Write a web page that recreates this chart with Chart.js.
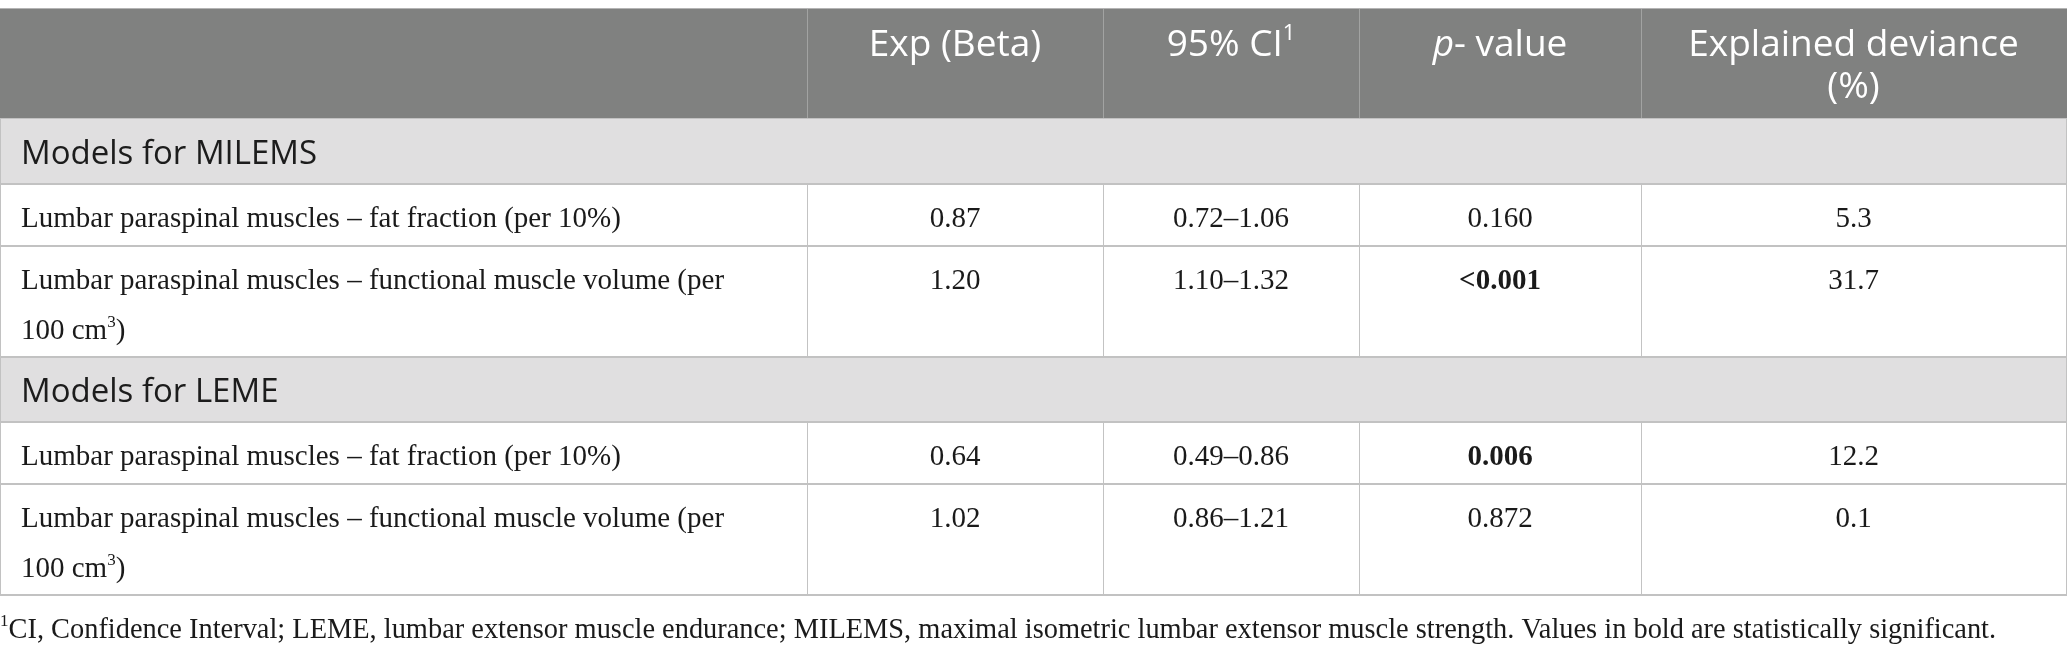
<!DOCTYPE html>
<html>
<head>
<meta charset="utf-8">
<title>Models for MILEMS and LEME</title>
<script src="https://cdn.jsdelivr.net/npm/chart.js@4.4.0/dist/chart.umd.min.js"></script>
<style>
html, body { margin: 0; padding: 0; background: #ffffff; }
#wrap { width: 2067px; height: 651px; position: relative; }
</style>
</head>
<body>
<div id="wrap"><canvas id="tableChart"></canvas></div>
<script>
// table content
var columnHeaders = ["", "Exp (Beta)", "95% CI¹", "_p_- value", "Explained deviance (%)"];
var groups = ["Models for MILEMS", "Models for LEME"];
var predictors = [
    "Lumbar paraspinal muscles – fat fraction (per 10%)",
    "Lumbar paraspinal muscles – functional muscle volume (per 100 cm³)"
];
// one entry per row: MILEMS fat, MILEMS volume, LEME fat, LEME volume
var expBeta = [0.87, 1.20, 0.64, 1.02];
var ciLower = [0.72, 1.10, 0.49, 0.86];
var ciUpper = [1.06, 1.32, 0.86, 1.21];
var pValues = ["0.160", "<0.001", "0.006", "0.872"];
var explainedDeviance = [5.3, 31.7, 12.2, 0.1];
var footnote = "¹CI, Confidence Interval; LEME, lumbar extensor muscle endurance; MILEMS, maximal isometric lumbar extensor muscle strength. Values in bold are statistically significant.";

// layout (in scale units, 1 unit = 1 px of the 2067 x 651 page)
var colEdges = [0, 807, 1103, 1359, 1641, 2066];
var tableTop = 9;
var headerHeight = 110;
var groupHeight = 65;
var rowHeight = 62;
var lineStep = 50;

var serif = "'Liberation Serif', 'Times New Roman', serif";
var sans = "'Open Sans', 'Noto Sans', sans-serif";
var headSize = 37, groupSize = 33, bodySize = 29, noteSize = 28.4;

function isSignificant(p) {
    return parseFloat(p.replace("<", "")) < 0.05;
}

// split text into runs: superscript digits and _italic_ parts
function runsOf(text) {
    var sup = { "¹": "1", "²": "2", "³": "3" };
    var runs = [];
    var italic = false;
    for (var ch of text) {
        if (ch === "_") { italic = !italic; continue; }
        var s = sup.hasOwnProperty(ch);
        var c = s ? sup[ch] : ch;
        var last = runs[runs.length - 1];
        if (last && last.sup === s && last.italic === italic) last.t += c;
        else runs.push({ t: c, sup: s, italic: italic });
    }
    return runs;
}

function fontFor(run, size, family, weight) {
    var sz = run.sup ? Math.round(size * 0.6) : size;
    return (run.italic ? "italic " : "") + (weight || "normal") + " " + sz + "px " + family;
}

function richWidth(ctx, text, size, family, weight) {
    var w = 0;
    runsOf(text).forEach(function (r) {
        ctx.font = fontFor(r, size, family, weight);
        w += ctx.measureText(r.t).width;
    });
    return w;
}

function drawRich(ctx, text, x, y, size, family, weight, align) {
    var w = richWidth(ctx, text, size, family, weight);
    var cx = align === "center" ? x - w / 2 : x;
    ctx.textAlign = "left";
    ctx.textBaseline = "alphabetic";
    runsOf(text).forEach(function (r) {
        ctx.font = fontFor(r, size, family, weight);
        ctx.fillText(r.t, cx, r.sup ? y - size * 0.42 : y);
        cx += ctx.measureText(r.t).width;
    });
}

function wrapLines(ctx, text, maxW, size, family, weight) {
    var words = text.split(" ");
    var lines = [];
    var cur = "";
    words.forEach(function (wd) {
        var test = cur ? cur + " " + wd : wd;
        if (cur && richWidth(ctx, test, size, family, weight) > maxW) {
            lines.push(cur);
            cur = wd;
        } else {
            cur = test;
        }
    });
    if (cur) lines.push(cur);
    return lines;
}

// build rows from the arrays
function buildRows(ctx) {
    var rows = [];
    var i = 0;
    groups.forEach(function (g) {
        rows.push({ kind: "group", label: g });
        predictors.forEach(function (p) {
            var lines = wrapLines(ctx, p, 735, bodySize, serif);
            rows.push({
                kind: "data",
                lines: lines,
                cells: [
                    expBeta[i].toFixed(2),
                    ciLower[i].toFixed(2) + "–" + ciUpper[i].toFixed(2),
                    pValues[i],
                    explainedDeviance[i].toFixed(1)
                ],
                bold: isSignificant(pValues[i])
            });
            i++;
        });
    });
    return rows;
}

var tablePlugin = {
    id: "tableCells",
    afterDraw: function (chart) {
        var ctx = chart.ctx;
        var X = function (v) { return chart.scales.x.getPixelForValue(v); };
        var Y = function (v) { return chart.scales.y.getPixelForValue(v); };
        var right = colEdges[colEdges.length - 1];
        ctx.save();

        // header
        ctx.fillStyle = "#808180";
        ctx.fillRect(X(0), Y(tableTop), X(right + 1) - X(0), Y(tableTop + headerHeight) - Y(tableTop));
        ctx.fillStyle = "#b4b4b4";
        ctx.fillRect(X(0), Y(tableTop - 1), X(right + 1) - X(0), 1);
        ctx.fillStyle = "#a2a3a2";
        for (var c = 1; c < colEdges.length - 1; c++) {
            ctx.fillRect(X(colEdges[c]), Y(tableTop), 1, Y(tableTop + headerHeight) - Y(tableTop));
        }
        ctx.fillStyle = "#ffffff";
        for (var c = 1; c < columnHeaders.length; c++) {
            var mid = (colEdges[c] + colEdges[c + 1]) / 2;
            var hl = wrapLines(ctx, columnHeaders[c], colEdges[c + 1] - colEdges[c] - 50, headSize, sans);
            hl.forEach(function (line, k) {
                drawRich(ctx, line, X(mid), Y(tableTop + 47 + k * 42), headSize, sans, "normal", "center");
            });
        }

        // body rows
        var rows = buildRows(ctx);
        var top = tableTop + headerHeight;
        var hLines = [top];
        rows.forEach(function (row) {
            var h;
            if (row.kind === "group") {
                h = groupHeight;
                ctx.fillStyle = "#e0dfe0";
                ctx.fillRect(X(0), Y(top), X(right) - X(0), Y(top + h) - Y(top));
                ctx.fillStyle = "#1c1c1c";
                drawRich(ctx, row.label, X(21), Y(top + 45), groupSize, sans, "normal", "left");
            } else {
                h = rowHeight + (row.lines.length - 1) * (lineStep - 1);
                ctx.fillStyle = "#c3c3c3";
                for (var c = 1; c < colEdges.length - 1; c++) {
                    ctx.fillRect(X(colEdges[c]), Y(top), 1, Y(top + h) - Y(top));
                }
                ctx.fillStyle = "#1a1a1a";
                row.lines.forEach(function (line, k) {
                    drawRich(ctx, line, X(21), Y(top + 43 + k * lineStep), bodySize, serif, "normal", "left");
                });
                row.cells.forEach(function (txt, k) {
                    var mid = (colEdges[k + 1] + colEdges[k + 2]) / 2;
                    var w = (k === 2 && row.bold) ? "bold" : "normal";
                    drawRich(ctx, txt, X(mid), Y(top + 43), bodySize, serif, w, "center");
                });
            }
            top += h;
            hLines.push(top);
        });

        // rules and outer border
        ctx.fillStyle = "#c2c2c2";
        hLines.forEach(function (y, k) {
            ctx.fillRect(X(0), Y(y) - 1, X(right + 1) - X(0), k === 0 ? 1 : 2);
        });
        ctx.fillRect(X(0), Y(tableTop + headerHeight), 1, Y(top) - Y(tableTop + headerHeight));
        ctx.fillRect(X(right), Y(tableTop + headerHeight), 1, Y(top) - Y(tableTop + headerHeight));

        // footnote
        ctx.fillStyle = "#1a1a1a";
        drawRich(ctx, footnote, X(0), Y(top + 43), noteSize, serif, "normal", "left");

        ctx.restore();
    }
};

window.onload = function () {
    var ctx = document.getElementById("tableChart").getContext("2d");
    new Chart(ctx, {
        type: "scatter",
        data: { datasets: [] },
        options: {
            responsive: true,
            maintainAspectRatio: false,
            animation: false,
            devicePixelRatio: 1,
            layout: { padding: 0 },
            plugins: { legend: { display: false }, tooltip: { enabled: false } },
            scales: {
                x: { type: "linear", min: 0, max: 2067, display: false },
                y: { type: "linear", min: 0, max: 651, reverse: true, display: false }
            }
        },
        plugins: [tablePlugin]
    });
};
</script>
</body>
</html>
